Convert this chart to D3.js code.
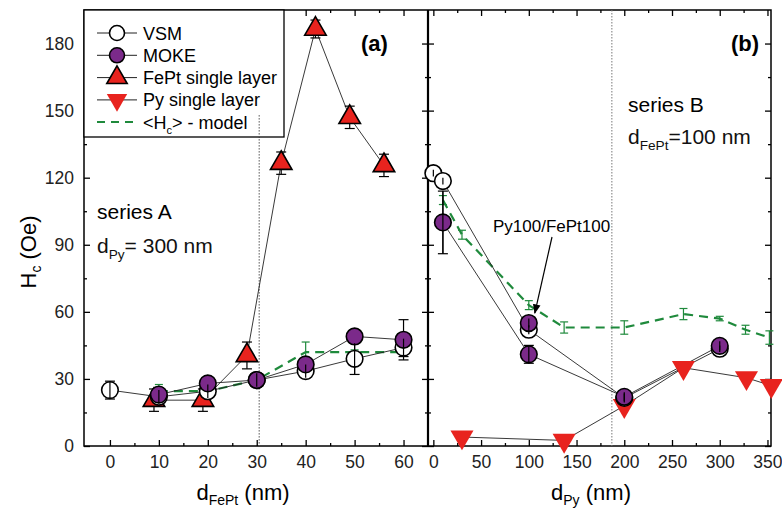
<!DOCTYPE html>
<html>
<head>
<meta charset="utf-8">
<script src="https://cdn.jsdelivr.net/npm/d3@7"></script>
<style>
  body { margin: 0; background: #fff; }
  svg text { font-family: "Liberation Sans", Arial, sans-serif; }
</style>
</head>
<body>
<main></main>
<script>
// ---- data ----
// panel (a): series A, d_Py = 300 nm, x = d_FePt (nm)
var vsmA_x = [0, 10, 20, 30, 40, 50, 60];
var vsmA_y = [25, 22, 24.5, 29.5, 33.5, 39, 44];
var vsmA_e = [4, 3, 3, 3, 3, 7, 4];
var mokeA_x = [10, 20, 30, 40, 50, 60];
var mokeA_y = [23, 28, 29.5, 36.5, 49, 47.5];
var mokeA_e = [3, 2, 3, 3, 3, 9];
var feptA_x = [9, 19, 28, 35, 42, 49, 56];
var feptA_y = [20.5, 20.5, 40.5, 126.5, 186.5, 147, 125.5];
var feptA_e = [5, 5, 6, 5, 4, 5, 5];
var modelA_x = [10, 20, 30, 40, 50, 60];
var modelA_y = [24.5, 24.5, 29.5, 42, 42, 42];
var modelA_e = [3, 1, 2, 4.5, 1, 1];

// panel (b): series B, d_FePt = 100 nm, x = d_Py (nm)
var vsmB_x = [0, 10, 100, 200, 300];
var vsmB_y = [122, 118.5, 52, 21.5, 43.5];
var vsmB_e = [1.5, 1.5, 2, 2, 1.5];
var mokeB_x = [10, 100, 200, 300];
var mokeB_y = [100, 41, 22, 44.8];
var mokeB_e = [14, 4, 2, 2];
var mokeB2_x = [100];            // Py100/FePt100
var mokeB2_y = [55];
var mokeB2_e = [2];
var pyB_x = [30, 137, 200, 262, 328, 354];
var pyB_y = [4, 2.5, 18, 35, 30.5, 27];
var modelB_x = [10, 30, 100, 137, 200, 262, 300, 327, 352];
var modelB_y = [110, 94.5, 63, 53, 53, 59, 57, 52, 48.5];
var modelB_e = [2, 2, 2, 2.5, 3, 2.5, 1, 2, 3];

var yTicks = [0, 30, 60, 90, 120, 150, 180];
var xTicksA = [0, 10, 20, 30, 40, 50, 60];
var xTicksB = [0, 50, 100, 150, 200, 250, 300, 350];

var width = 782, height = 512;
var padL = 84, padT = 10, baseY = 446, midX = 428, padR = 771;

var purple = "#7b2a8a", red = "#e8231e", green = "#1f8a3c";

var svg = d3.select("main").append("svg")
    .attr("width", width)
    .attr("height", height);

var y = d3.scaleLinear().domain([0, 195]).range([baseY, padT]);
var xA = d3.scaleLinear().domain([-5.3, 65]).range([padL, midX]);
var xB = d3.scaleLinear().domain([-5.6, 353.7]).range([midX, padR]);

function zip(xs, ys, es) {
    return xs.map(function(d, i) { return {x: d, y: ys[i], e: es ? es[i] : 0}; });
}

// ---- axes (ticks inward) ----
function axis(gen, tx, ty, major, minor, labels) {
    var g = svg.append("g").attr("transform", "translate(" + tx + "," + ty + ")");
    g.call(gen.tickValues(major).tickSizeInner(-6).tickSizeOuter(0).tickPadding(10)
        .tickFormat(labels ? d3.format("d") : ""));
    g.append("g").call(gen.tickValues(minor).tickSizeInner(-3).tickFormat(""));
    g.selectAll(".domain").remove();
    g.selectAll("line").attr("stroke", "#000").attr("stroke-width", 1.3);
    g.selectAll("text").attr("font-size", 17.5).attr("fill", "#222")
        .style("font-family", "Liberation Sans, Arial, sans-serif");
    return g;
}
var yMinor = d3.range(15, 195, 30);
axis(d3.axisLeft(y), padL, 0, yTicks, yMinor, true);
axis(d3.axisRight(y), midX, 0, yTicks, yMinor, false);
axis(d3.axisLeft(y), midX, 0, yTicks, yMinor, false);
axis(d3.axisRight(y), padR, 0, yTicks, yMinor, false);
axis(d3.axisBottom(xA), 0, baseY, xTicksA, d3.range(5, 60, 10), true);
axis(d3.axisTop(xA), 0, padT, xTicksA, d3.range(5, 60, 10), false);
axis(d3.axisBottom(xB), 0, baseY, xTicksB, d3.range(25, 350, 50), true);
axis(d3.axisTop(xB), 0, padT, xTicksB, d3.range(25, 350, 50), false);

// frame
svg.append("rect")
    .attr("x", padL).attr("y", padT)
    .attr("width", padR - padL).attr("height", baseY - padT)
    .attr("fill", "none").attr("stroke", "#000").attr("stroke-width", 1.5);
svg.append("line")
    .attr("x1", midX).attr("x2", midX).attr("y1", padT).attr("y2", baseY)
    .attr("stroke", "#000").attr("stroke-width", 2.2);

// dotted guides
svg.append("line")
    .attr("x1", xA(30.5)).attr("x2", xA(30.5)).attr("y1", y(148)).attr("y2", baseY)
    .attr("stroke", "#555").attr("stroke-width", 1).attr("stroke-dasharray", "1.5,1.5");
svg.append("line")
    .attr("x1", xB(187)).attr("x2", xB(187)).attr("y1", padT).attr("y2", baseY)
    .attr("stroke", "#777").attr("stroke-width", 1).attr("stroke-dasharray", "1.5,1.5");

// ---- drawing helpers ----
function errBars(data, x, color, cap) {
    var g = svg.append("g").attr("stroke", color).attr("stroke-width", 1.2);
    data.forEach(function(d) {
        if (!d.e) return;
        var cx = x(d.x), y1 = y(d.y + d.e), y2 = y(d.y - d.e);
        g.append("line").attr("x1", cx).attr("x2", cx).attr("y1", y1).attr("y2", y2);
        if (!cap) return;
        g.append("line").attr("x1", cx - cap).attr("x2", cx + cap).attr("y1", y1).attr("y2", y1);
        g.append("line").attr("x1", cx - cap).attr("x2", cx + cap).attr("y1", y2).attr("y2", y2);
    });
}
function path(data, x, color, w, dash) {
    svg.append("path")
        .datum(data)
        .attr("d", d3.line().x(function(d) { return x(d.x); }).y(function(d) { return y(d.y); }))
        .attr("fill", "none")
        .attr("stroke", color)
        .attr("stroke-width", w)
        .attr("stroke-dasharray", dash || null);
}
function circles(data, x, fill) {
    svg.append("g").selectAll("circle").data(data).join("circle")
        .attr("cx", function(d) { return x(d.x); })
        .attr("cy", function(d) { return y(d.y); })
        .attr("r", 8.3)
        .attr("fill", fill)
        .attr("stroke", "#000")
        .attr("stroke-width", 1.6);
}
function triangles(data, x, down) {
    svg.append("g").selectAll("path").data(data).join("path")
        .attr("d", d3.symbol(d3.symbolTriangle, down ? 230 : 200))
        .attr("transform", function(d) {
            return "translate(" + x(d.x) + "," + y(d.y) + ")" + (down ? " rotate(180)" : "");
        })
        .attr("fill", red)
        .attr("stroke", "#000")
        .attr("stroke-width", down ? 0 : 1.6);
}

var vsmA = zip(vsmA_x, vsmA_y, vsmA_e), mokeA = zip(mokeA_x, mokeA_y, mokeA_e);
var feptA = zip(feptA_x, feptA_y, feptA_e), modelA = zip(modelA_x, modelA_y, modelA_e);
var vsmB = zip(vsmB_x, vsmB_y, vsmB_e), mokeB = zip(mokeB_x, mokeB_y, mokeB_e);
var mokeB2 = zip(mokeB2_x, mokeB2_y, mokeB2_e), pyB = zip(pyB_x, pyB_y);
var modelB = zip(modelB_x, modelB_y, modelB_e);

// model curves
path(modelA, xA, green, 2.2, "9,6");
errBars(modelA, xA, green, 4);
path(modelB, xB, green, 2.2, "9,6");
errBars(modelB, xB, green, 4);

// connecting lines
[[vsmA, xA], [mokeA, xA], [feptA, xA], [vsmB, xB], [mokeB, xB], [pyB, xB]].forEach(function(s) {
    path(s[0], s[1], "#222", 0.9);
});

// error bars
errBars(feptA, xA, "#000", 5);
errBars(vsmA, xA, "#000", 5);
errBars(mokeA, xA, "#000", 5);
errBars(vsmB, xB, "#000", 5);
errBars(mokeB, xB, "#000", 5);
errBars(mokeB2, xB, "#000", 5);

// markers
triangles(feptA, xA, false);
circles(vsmA, xA, "#fff");
circles(mokeA, xA, purple);
triangles(pyB, xB, true);
circles(vsmB, xB, "#fff");
circles(mokeB, xB, purple);
circles(mokeB2, xB, purple);

// thin error bars drawn again over markers where they overlap
errBars(vsmA, xA, "#000", 0);
errBars(vsmB, xB, "#000", 0);
errBars(mokeB.concat(mokeB2), xB, "#000", 0);

// ---- legend ----
var leg = svg.append("g");
leg.append("rect")
    .attr("x", padL).attr("y", padT).attr("width", 200).attr("height", 127)
    .attr("fill", "#fff").attr("stroke", "#000").attr("stroke-width", 1.3);
var legItems = ["VSM", "MOKE", "FePt single layer", "Py single layer"];
legItems.forEach(function(name, i) {
    var ly = 33 + i * 22.3;
    leg.append("line").attr("x1", 97).attr("x2", 137).attr("y1", ly).attr("y2", ly)
        .attr("stroke", "#222").attr("stroke-width", 1);
    if (i < 2) {
        leg.append("circle").attr("cx", 117).attr("cy", ly).attr("r", 7.5)
            .attr("fill", i == 0 ? "#fff" : purple).attr("stroke", "#000").attr("stroke-width", 1.6);
    } else {
        leg.append("path").attr("d", d3.symbol(d3.symbolTriangle, 180))
            .attr("transform", "translate(117," + ly + ")" + (i == 3 ? " rotate(180)" : ""))
            .attr("fill", red).attr("stroke", "#000").attr("stroke-width", i == 3 ? 0 : 1.6);
    }
    leg.append("text").attr("x", 143).attr("y", ly + 6.5).attr("font-size", 18).text(name);
});
leg.append("line").attr("x1", 97).attr("x2", 137).attr("y1", 122).attr("y2", 122)
    .attr("stroke", green).attr("stroke-width", 2.2).attr("stroke-dasharray", "8,6");
var mt = leg.append("text").attr("x", 143).attr("y", 128.5).attr("font-size", 18);
mt.append("tspan").text("<H");
mt.append("tspan").attr("font-size", 11).attr("dy", 5).text("c");
mt.append("tspan").attr("dy", -5).text("> - model");

// dotted guide in (a) passes over legend box
svg.append("line")
    .attr("x1", xA(30.5)).attr("x2", xA(30.5)).attr("y1", y(148)).attr("y2", 137)
    .attr("stroke", "#555").attr("stroke-width", 1).attr("stroke-dasharray", "1.5,1.5");

// ---- annotations ----
function subText(x0, y0, size, parts) {
    var t = svg.append("text").attr("x", x0).attr("y", y0).attr("font-size", size).attr("fill", "#111");
    parts.forEach(function(p) {
        if (p.sub) {
            t.append("tspan").attr("font-size", size * 0.65).attr("dy", size * 0.3).text(p.t);
        } else {
            t.append("tspan").attr("dy", p.after ? -size * 0.3 : 0).text(p.t);
        }
    });
    return t;
}
svg.append("text").attr("x", 361).attr("y", 51).attr("font-size", 22)
    .attr("font-weight", "bold").text("(a)");
svg.append("text").attr("x", 731).attr("y", 51).attr("font-size", 22)
    .attr("font-weight", "bold").text("(b)");

svg.append("text").attr("x", 97).attr("y", 219).attr("font-size", 21).text("series A");
subText(97, 253, 21, [{t: "d"}, {t: "Py", sub: true}, {t: "= 300 nm", after: true}]);
svg.append("text").attr("x", 628).attr("y", 112).attr("font-size", 21).text("series B");
subText(628, 144, 21, [{t: "d"}, {t: "FePt", sub: true}, {t: "=100 nm", after: true}]);

svg.append("text").attr("x", 493).attr("y", 232).attr("font-size", 17).text("Py100/FePt100");
svg.append("defs").append("marker")
    .attr("id", "arr").attr("viewBox", "0 0 10 10").attr("refX", 9).attr("refY", 5)
    .attr("markerWidth", 8).attr("markerHeight", 8).attr("orient", "auto")
  .append("path").attr("d", "M0,1 L10,5 L0,9 Z").attr("fill", "#000");
svg.append("line")
    .attr("x1", 552).attr("y1", 237).attr("x2", xB(100) + 6).attr("y2", y(55) - 10)
    .attr("stroke", "#000").attr("stroke-width", 1.2).attr("marker-end", "url(#arr)");

// axis titles
var yl = svg.append("text")
    .attr("transform", "translate(36,252) rotate(-90)")
    .attr("text-anchor", "middle").attr("font-size", 22);
yl.append("tspan").text("H");
yl.append("tspan").attr("font-size", 14).attr("dy", 5).text("c");
yl.append("tspan").attr("dy", -5).text(" (Oe)");

var xl1 = svg.append("text").attr("x", 243).attr("y", 500).attr("text-anchor", "middle").attr("font-size", 22);
xl1.append("tspan").text("d");
xl1.append("tspan").attr("font-size", 14).attr("dy", 5).text("FePt");
xl1.append("tspan").attr("dy", -5).text(" (nm)");
var xl2 = svg.append("text").attr("x", 591).attr("y", 500).attr("text-anchor", "middle").attr("font-size", 22);
xl2.append("tspan").text("d");
xl2.append("tspan").attr("font-size", 14).attr("dy", 5).text("Py");
xl2.append("tspan").attr("dy", -5).text(" (nm)");
</script>
</body>
</html>
